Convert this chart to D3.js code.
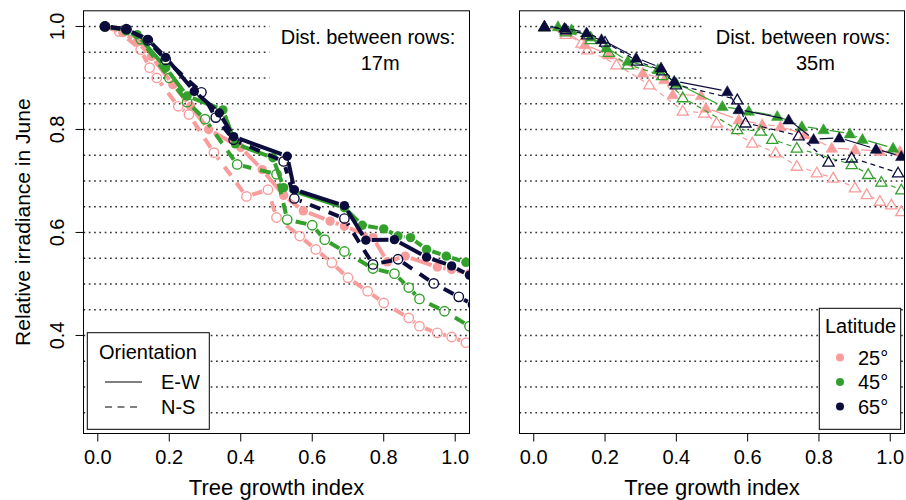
<!DOCTYPE html>
<html><head><meta charset="utf-8">
<script src="https://cdn.jsdelivr.net/npm/d3@7"></script>
<style>
body{margin:0;background:#fff}
svg{display:block}
text{font-family:"Liberation Sans",Arial,Helvetica,sans-serif;fill:#000}
</style>
</head><body>
<svg id="chart" width="906" height="500"></svg>
<script>
// ---------- data ----------
const xTicks = [0, 0.2, 0.4, 0.6, 0.8, 1.0];
const yTicks = [0.4, 0.6, 0.8, 1.0];
const gridValues = [0.25, 0.3, 0.35, 0.4, 0.45, 0.5, 0.55, 0.6, 0.65, 0.7, 0.75, 0.8, 0.85, 0.9, 0.95, 1.0];
const latitudes = ["25°", "45°", "65°"];
const orientations = ["E-W", "N-S"];
const distances = ["17m", "35m"];
const latColors = ["#F99C9C", "#33A02C", "#0C0C3C"];

// Distance 17 m
const d17_EW_25 = [[0.02,1.0],[0.07,0.988],[0.11,0.97],[0.15,0.942],[0.21,0.887],[0.26,0.845],[0.31,0.80],[0.40,0.765],[0.46,0.722],[0.52,0.672],[0.575,0.642],[0.65,0.622],[0.69,0.612],[0.77,0.59],[0.81,0.543],[0.86,0.554],[0.95,0.533],[0.99,0.528],[1.04,0.52]];
const d17_NS_25 = [[0.02,1.0],[0.06,0.99],[0.12,0.955],[0.145,0.92],[0.165,0.9],[0.225,0.845],[0.255,0.829],[0.325,0.755],[0.416,0.67],[0.476,0.683],[0.50,0.629],[0.565,0.593],[0.61,0.567],[0.655,0.541],[0.70,0.512],[0.755,0.486],[0.80,0.463],[0.87,0.434],[0.90,0.418],[0.95,0.405],[0.99,0.397],[1.03,0.386]];
const d17_EW_45 = [[0.02,1.0],[0.08,0.993],[0.11,0.984],[0.19,0.92],[0.25,0.865],[0.35,0.838],[0.385,0.772],[0.49,0.745],[0.52,0.687],[0.69,0.648],[0.74,0.614],[0.80,0.607],[0.84,0.593],[0.875,0.59],[0.92,0.567],[0.975,0.554],[1.03,0.542]];
const d17_NS_45 = [[0.02,1.0],[0.08,0.993],[0.12,0.975],[0.20,0.90],[0.25,0.853],[0.30,0.82],[0.39,0.732],[0.50,0.713],[0.53,0.625],[0.60,0.614],[0.635,0.586],[0.69,0.563],[0.77,0.53],[0.83,0.52],[0.87,0.493],[0.90,0.471],[0.97,0.447],[1.04,0.418]];
const d17_EW_65 = [[0.02,1.0],[0.08,0.994],[0.14,0.975],[0.19,0.94],[0.27,0.874],[0.34,0.832],[0.38,0.786],[0.53,0.748],[0.55,0.683],[0.69,0.652],[0.75,0.585],[0.83,0.586],[0.92,0.552],[0.99,0.535],[1.04,0.517]];
const d17_NS_65 = [[0.02,1.0],[0.08,0.995],[0.14,0.973],[0.19,0.935],[0.29,0.872],[0.33,0.823],[0.38,0.78],[0.52,0.738],[0.55,0.666],[0.69,0.627],[0.77,0.538],[0.84,0.548],[0.94,0.501],[1.01,0.475],[1.05,0.46]];

// Distance 35 m
const d35_EW_25 = [[0.03,1.0],[0.09,0.99],[0.143,0.965],[0.21,0.945],[0.306,0.91],[0.366,0.897],[0.39,0.868],[0.469,0.866],[0.483,0.842],[0.575,0.819],[0.641,0.81],[0.692,0.806],[0.76,0.79],[0.836,0.764],[0.901,0.761],[0.971,0.758],[1.027,0.758]];
const d35_NS_25 = [[0.03,1.0],[0.09,0.985],[0.134,0.968],[0.15,0.955],[0.232,0.926],[0.324,0.887],[0.418,0.836],[0.478,0.832],[0.513,0.813],[0.613,0.774],[0.678,0.755],[0.738,0.729],[0.794,0.716],[0.84,0.706],[0.901,0.687],[0.934,0.674],[0.971,0.661],[1.003,0.654],[1.031,0.641]];
const d35_EW_45 = [[0.03,1.0],[0.068,1.0],[0.106,0.994],[0.16,0.98],[0.204,0.959],[0.264,0.933],[0.348,0.917],[0.40,0.89],[0.529,0.845],[0.603,0.836],[0.683,0.826],[0.752,0.806],[0.813,0.80],[0.887,0.792],[0.922,0.781],[1.008,0.764]];
const d35_NS_45 = [[0.03,1.0],[0.09,0.99],[0.16,0.975],[0.21,0.95],[0.264,0.926],[0.36,0.905],[0.418,0.862],[0.571,0.80],[0.636,0.797],[0.669,0.781],[0.738,0.764],[0.892,0.732],[0.938,0.713],[0.975,0.698],[1.031,0.683]];
const d35_EW_65 = [[0.03,1.0],[0.086,0.997],[0.148,0.988],[0.19,0.975],[0.287,0.939],[0.357,0.92],[0.394,0.894],[0.543,0.874],[0.575,0.839],[0.715,0.819],[0.785,0.781],[0.857,0.784],[0.96,0.762],[1.031,0.748]];
const d35_NS_65 = [[0.03,1.0],[0.09,0.994],[0.15,0.984],[0.20,0.97],[0.29,0.933],[0.36,0.914],[0.399,0.887],[0.571,0.858],[0.594,0.813],[0.743,0.788],[0.827,0.737],[0.892,0.745],[1.022,0.716]];

// ---------- drawing ----------
const svg = d3.select("#chart");
const yTop = 10.8, yBot = 433.5;
const panels = [
  {x0: 83.5, x1: 469.5, dist: distances[0], marker: "circle", lw: 4, dash: "11,9",
   series: [[d17_EW_25,0,0],[d17_NS_25,0,1],[d17_EW_45,1,0],[d17_NS_45,1,1],[d17_EW_65,2,0],[d17_NS_65,2,1]],
   yAxis: true, legend: "orientation"},
  {x0: 519.5, x1: 904.5, dist: distances[1], marker: "triangle", lw: 1.2, dash: "5,4",
   series: [[d35_EW_25,0,0],[d35_NS_25,0,1],[d35_EW_45,1,0],[d35_NS_45,1,1],[d35_EW_65,2,0],[d35_NS_65,2,1]],
   yAxis: false, legend: "latitude"}
];

panels.forEach((p, pi) => {
  const x = d3.scaleLinear().domain([-0.04, 1.04]).range([p.x0, p.x1]);
  const y = d3.scaleLinear().domain([0.2096, 1.0304]).range([yBot, yTop]);
  const g = svg.append("g");
  const clipId = "clip" + pi;
  g.append("clipPath").attr("id", clipId).append("rect")
    .attr("x", p.x0).attr("y", yTop).attr("width", p.x1 - p.x0).attr("height", yBot - yTop);

  // grid
  g.append("g").selectAll("line").data(gridValues).join("line")
    .attr("x1", p.x0).attr("x2", p.x1)
    .attr("y1", d => y(d)).attr("y2", d => y(d))
    .attr("stroke", "#333").attr("stroke-width", 1.4).attr("stroke-dasharray", "1.7,3.6");

  // white box behind the distance text
  const bx = x(0.48);
  g.append("rect").attr("x", bx).attr("y", yTop + 1).attr("width", p.x1 - bx - 1).attr("height", y(0.875) - yTop - 1).attr("fill", "#fff");
  g.append("text").attr("x", x(1.0)).attr("y", y(0.966)).attr("text-anchor", "end")
    .attr("font-size", 20).text("Dist. between rows:");
  g.append("text").attr("x", x(0.79)).attr("y", y(0.915)).attr("text-anchor", "middle")
    .attr("font-size", 20).text(p.dist);

  const data = g.append("g").attr("clip-path", `url(#${clipId})`);
  p.series.forEach(([pts, li, oi]) => {
    const col = latColors[li];
    const gap = 6;
    const segs = [];
    for (let i = pts.length - 1; i > 0; i--) {
      const ax = x(pts[i][0]), ay = y(pts[i][1]);
      const bx2 = x(pts[i-1][0]), by2 = y(pts[i-1][1]);
      const dx = bx2 - ax, dy = by2 - ay, L = Math.hypot(dx, dy);
      if (L <= 2 * gap) continue;
      const ux = dx / L, uy = dy / L;
      segs.push([ax + ux * gap, ay + uy * gap, bx2 - ux * gap, by2 - uy * gap]);
    }
    data.append("g").selectAll("line").data(segs).join("line")
      .attr("x1", d => d[0]).attr("y1", d => d[1]).attr("x2", d => d[2]).attr("y2", d => d[3])
      .attr("stroke", col).attr("stroke-width", p.lw)
      .attr("stroke-dasharray", oi === 1 ? p.dash : null)
      .attr("stroke-linecap", "butt");
    const filled = oi === 0;
    if (p.marker === "circle") {
      data.append("g").selectAll("circle").data(pts).join("circle")
        .attr("cx", d => x(d[0])).attr("cy", d => y(d[1]))
        .attr("r", 4.7)
        .attr("fill", filled ? col : "none")
        .attr("stroke", col).attr("stroke-width", filled ? 0 : 1.4);
    } else {
      const tri = d3.symbol().type(d3.symbolTriangle).size(filled ? 58 : 54);
      data.append("g").selectAll("path").data(pts).join("path")
        .attr("transform", d => `translate(${x(d[0])},${y(d[1]) + 1})`)
        .attr("d", tri)
        .attr("fill", filled ? col : "none")
        .attr("stroke", col).attr("stroke-width", filled ? 0.5 : 1.3);
    }
  });

  // box
  g.append("rect").attr("x", p.x0).attr("y", yTop).attr("width", p.x1 - p.x0).attr("height", yBot - yTop)
    .attr("fill", "none").attr("stroke", "#000").attr("stroke-width", 1);

  // x axis
  const xa = g.append("g");
  xa.selectAll("line").data(xTicks).join("line")
    .attr("x1", d => x(d)).attr("x2", d => x(d)).attr("y1", yBot).attr("y2", yBot + 8)
    .attr("stroke", "#000");
  xa.selectAll("text").data(xTicks).join("text")
    .attr("x", d => x(d)).attr("y", 464).attr("text-anchor", "middle").attr("font-size", 20)
    .text(d => d3.format(".1f")(d));
  g.append("text").attr("x", (p.x0 + p.x1) / 2).attr("y", 495).attr("text-anchor", "middle")
    .attr("font-size", 22).text("Tree growth index");

  if (p.yAxis) {
    const ya = g.append("g");
    ya.selectAll("line").data(yTicks).join("line")
      .attr("x1", p.x0 - 8).attr("x2", p.x0).attr("y1", d => y(d)).attr("y2", d => y(d))
      .attr("stroke", "#000");
    ya.selectAll("text").data(yTicks).join("text")
      .attr("transform", d => `translate(64,${y(d)}) rotate(-90)`)
      .attr("text-anchor", "middle").attr("font-size", 20)
      .text(d => d3.format(".1f")(d));
    g.append("text").attr("transform", `translate(30,${(yTop + yBot) / 2}) rotate(-90)`)
      .attr("text-anchor", "middle").attr("font-size", 21).text("Relative irradiance in June");
  }

  if (p.legend === "orientation") {
    const lg = g.append("g");
    lg.append("rect").attr("x", 87.3).attr("y", 332.7).attr("width", 122).attr("height", 96.6)
      .attr("fill", "#fff").attr("stroke", "#000");
    lg.append("text").attr("x", 99).attr("y", 359).attr("font-size", 20).text("Orientation");
    orientations.forEach((o, i) => {
      const yy = 382 + i * 25;
      lg.append("line").attr("x1", 105).attr("x2", 142).attr("y1", yy).attr("y2", yy)
        .attr("stroke", "#000").attr("stroke-width", 1)
        .attr("stroke-dasharray", i === 1 ? "7,5.5" : null);
      lg.append("text").attr("x", 161).attr("y", yy + 7).attr("font-size", 20).text(o);
    });
  } else {
    const lg = g.append("g");
    lg.append("rect").attr("x", 819.3).attr("y", 308.3).attr("width", 81.4).attr("height", 121)
      .attr("fill", "#fff").attr("stroke", "#000");
    lg.append("text").attr("x", 825).attr("y", 333).attr("font-size", 20).text("Latitude");
    latitudes.forEach((l, i) => {
      const yy = 357.5 + i * 24.5;
      lg.append("circle").attr("cx", 840).attr("cy", yy).attr("r", 4).attr("fill", latColors[i]);
      lg.append("text").attr("x", 858).attr("y", yy + 7).attr("font-size", 20).text(l);
    });
  }
});
</script>
</body></html>
